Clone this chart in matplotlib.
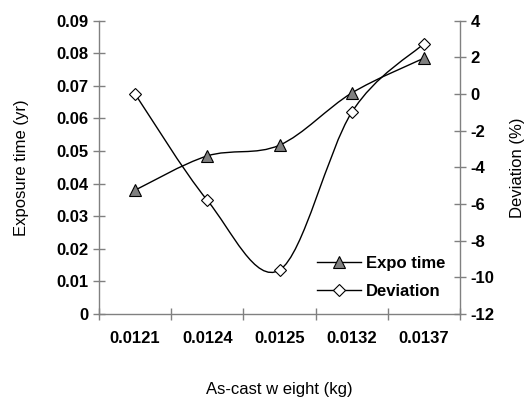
"""
Exposure time and deviation against as-cast weight, Excel-style smoothed lines
on two y axes.
"""

import matplotlib
matplotlib.use("Agg")
import matplotlib.pyplot as plt
from matplotlib.path import Path
from matplotlib.patches import PathPatch
from matplotlib.lines import Line2D

plt.rcParams.update({'font.family': ['Liberation Sans', 'DejaVu Sans'],
                     'axes.unicode_minus': False})

# ============================== data =========================================

weights = ["0.0121", "0.0124", "0.0125", "0.0132", "0.0137"]
expo_time = [0.038, 0.0485, 0.0518, 0.0678, 0.0785]
deviation = [0.0, -5.8, -9.6, -1.0, 2.75]

# ============================== helpers ======================================

def smooth_path(xs, ys):
    # Catmull-Rom style bezier, similar to Excel's "smoothed line"
    pts = list(zip(xs, ys))
    verts = [pts[0]]
    codes = [Path.MOVETO]
    n = len(pts)
    for i in range(n - 1):
        p0 = pts[max(i - 1, 0)]
        p1 = pts[i]
        p2 = pts[i + 1]
        p3 = pts[min(i + 2, n - 1)]
        c1 = (p1[0] + (p2[0] - p0[0]) / 6.0, p1[1] + (p2[1] - p0[1]) / 6.0)
        c2 = (p2[0] - (p3[0] - p1[0]) / 6.0, p2[1] - (p3[1] - p1[1]) / 6.0)
        verts += [c1, c2, p2]
        codes += [Path.CURVE4] * 3
    return Path(verts, codes)

# ============================== main =========================================

def main():
    fig = plt.figure(figsize=(5.31, 3.97), dpi=100)
    ax = fig.add_axes([0.1864, 0.209, 0.68, 0.739])
    ax2 = ax.twinx()

    x = list(range(len(weights)))

    ax.add_patch(PathPatch(smooth_path(x, expo_time), fill=False,
                           edgecolor='black', lw=1.0, zorder=2))
    ax.plot(x, expo_time, ls='none', marker='^', ms=8, mfc='#808080',
            mec='black', mew=0.8, zorder=3)

    ax2.add_patch(PathPatch(smooth_path(x, deviation), fill=False,
                            edgecolor='black', lw=1.0, zorder=2))
    ax2.plot(x, deviation, ls='none', marker='D', ms=6, mfc='white',
             mec='black', mew=0.8, zorder=3)

    ax.set_xlim(-0.5, len(weights) - 0.5)
    ax.set_ylim(0, 0.09)
    ax2.set_ylim(-12, 4)

    ax.set_yticks([i / 100 for i in range(0, 10)])
    ax.set_yticklabels(["0"] + ["%.2f" % (i / 100) for i in range(1, 10)])
    ax2.set_yticks(range(-12, 5, 2))

    # ticks at category boundaries, labels at category centres
    ax.set_xticks([i - 0.5 for i in range(len(weights) + 1)])
    ax.set_xticklabels([])
    ax.set_xticks(x, minor=True)
    ax.set_xticklabels(weights, minor=True)
    ax.tick_params(axis='x', which='minor', length=0, pad=12)

    for a in (ax, ax2):
        a.spines['top'].set_visible(False)
        for side in ('left', 'right', 'bottom'):
            a.spines[side].set_color('#808080')
            a.spines[side].set_linewidth(1.0)
        a.tick_params(which='major', direction='inout', length=8,
                      width=1.0, color='#808080', labelsize=12)
        a.tick_params(which='minor', labelsize=12)
        for lbl in a.get_xticklabels(which='both') + a.get_yticklabels():
            lbl.set_fontweight('bold')
    ax.spines['right'].set_visible(False)
    ax2.spines['left'].set_visible(False)
    ax2.spines['bottom'].set_visible(False)

    ax.set_xlabel('As-cast w eight (kg)', fontsize=12, labelpad=26)
    ax.set_ylabel('Exposure time (yr)', fontsize=12, labelpad=20)
    ax2.set_ylabel('Deviation (%)', fontsize=12, labelpad=11)

    handles = [
        Line2D([], [], color='black', lw=1.0, marker='^', ms=8,
               mfc='#808080', mec='black', mew=0.8),
        Line2D([], [], color='black', lw=1.0, marker='D', ms=6,
               mfc='white', mec='black', mew=0.8),
    ]
    ax2.legend(handles, ['Expo time', 'Deviation'], loc='lower right',
               bbox_to_anchor=(1.0, 0.0), frameon=False,
               prop={'weight': 'bold', 'size': 12},
               handlelength=2.6, handletextpad=0.3, labelspacing=0.8)

    fig.savefig('out.png', dpi=100)


if __name__ == '__main__':
    main()
